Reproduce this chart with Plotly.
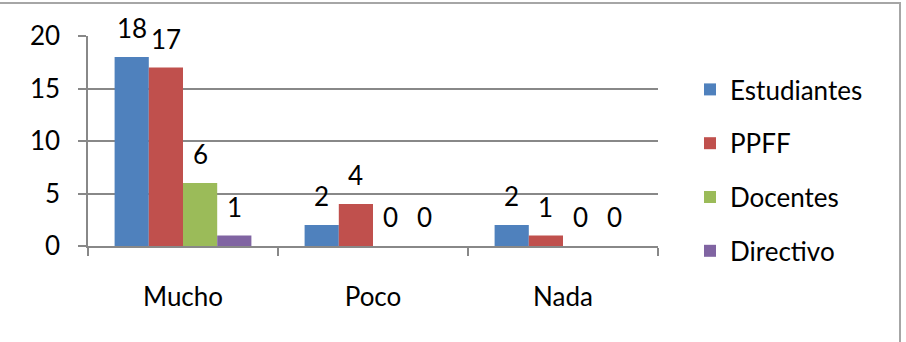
import plotly.graph_objects as go

categories = ["Mucho", "Poco", "Nada"]
series_names = ["Estudiantes", "PPFF", "Docentes", "Directivo"]
estudiantes = [18, 2, 2]
ppff = [17, 4, 1]
docentes = [6, 0, 0]
directivo = [1, 0, 0]
colors = ["#4F81BD", "#C0504D", "#9BBB59", "#8064A2"]
y_ticks = [0, 5, 10, 15, 20]

values = [estudiantes, ppff, docentes, directivo]

W, H = 906, 342
ML, MR, MT, MB = 88, 248, 36, 96
plot_w = W - ML - MR
bargap = 0.28
bar_px = plot_w / len(categories) * (1 - bargap) / len(series_names)

FONT = "Lato"
FS = 26
fig = go.Figure()
for name, vals, col in zip(series_names, values, colors):
    fig.add_trace(go.Bar(name=name, x=categories, y=vals, marker_color=col,
                         marker_line_width=0, legendgroup=name))

annotations = []
for i, vals in enumerate(values):
    for cat, v in zip(categories, vals):
        annotations.append(dict(x=cat, y=v, xref="x", yref="y", text=str(v),
                                showarrow=False, yshift=29,
                                xshift=(i - 1.5) * bar_px,
                                font=dict(family=FONT, size=FS, color="#000")))

px_x = lambda px: (px - ML) / plot_w
px_y = lambda py: (H - MB - py) / (H - MT - MB)

fig.update_layout(
    width=W, height=H,
    margin=dict(l=ML, r=MR, t=MT, b=MB, pad=0),
    paper_bgcolor="white", plot_bgcolor="white",
    barmode="group", bargap=bargap, bargroupgap=0,
    font=dict(family=FONT, size=FS, color="#000"),
    showlegend=True,
    legend=dict(x=px_x(690), y=px_y(66), xanchor="left", yanchor="top",
                font=dict(family=FONT, size=FS, color="#000"),
                tracegroupgap=17, itemwidth=30, bgcolor="rgba(0,0,0,0)",
                maxheight=340),
    annotations=annotations,
    shapes=[dict(type="rect", xref="paper", yref="paper",
                 x0=px_x(-20), x1=px_x(900), y0=px_y(360), y1=px_y(3),
                 line=dict(color="#A6A6A6", width=2), fillcolor="rgba(0,0,0,0)",
                 layer="below")],
    xaxis=dict(showline=True, linecolor="#888", linewidth=1.5, ticks="outside",
               tickson="boundaries", ticklen=8, tickcolor="#888", tickwidth=1.5,
               showgrid=False, ticklabelstandoff=27,
               tickfont=dict(family=FONT, size=FS, color="#000")),
    yaxis=dict(range=[0, 20], tickvals=y_ticks, showline=True, linecolor="#888",
               linewidth=1.5, ticks="outside", ticklen=8, tickcolor="#888",
               tickwidth=1.5, showgrid=True, gridcolor="#888", gridwidth=1.5,
               zeroline=False, ticklabelstandoff=13,
               tickfont=dict(family=FONT, size=FS, color="#000")),
)

fig.write_html("out.html")
